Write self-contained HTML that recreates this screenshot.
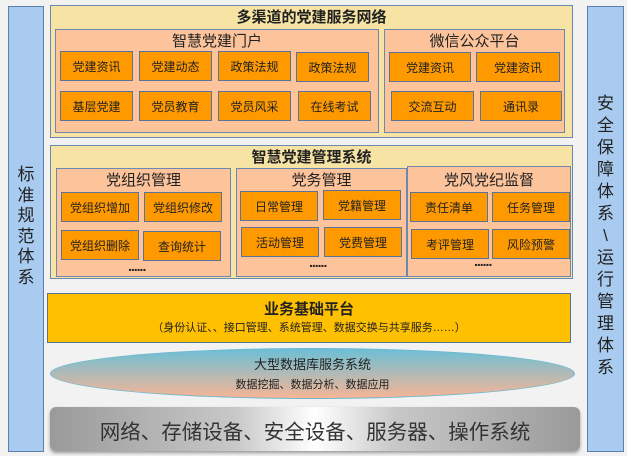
<!DOCTYPE html>
<html><head><meta charset="utf-8"><style>
*{margin:0;padding:0;box-sizing:border-box}
body{width:627px;height:466px;background:#fff;position:relative;overflow:hidden;font-family:"Liberation Sans","Noto Sans CJK SC",sans-serif}
.a{position:absolute}
.bg{left:0;top:0;width:627px;height:456px;background:#f2f2f2}
.side{background:#a9cbf0;border:1px solid #5a7fae;color:#222;font-size:17px;text-align:center;line-height:20.5px}
.ybox{background:#f7e4a4;border:1px solid #6a88b0}
.pbox{background:#fdc49c;border:1px solid #6a88b0}
.btn{background:#ff9900;border:1.5px solid #5b7396;font-size:12px;color:#222;display:flex;align-items:center;justify-content:center}
.t{text-align:center;color:#222}
.dots{font-size:14px;letter-spacing:-1px;color:#222;font-weight:bold}
</style></head><body>
<div class="a bg"></div>
<div class="a side" style="left:8px;top:6px;width:36px;height:446px;padding-top:158px">标<br>准<br>规<br>范<br>体<br>系</div>
<div class="a side" style="left:587px;top:6px;width:37px;height:446px;padding-top:86px;line-height:22px">安<br>全<br>保<br>障<br>体<br>系<br>\<br>运<br>行<br>管<br>理<br>体<br>系</div>

<div class="a ybox" style="left:50px;top:5px;width:523px;height:133px"></div>
<div class="a t" style="left:50px;top:6px;width:523px;font-size:15px;font-weight:bold">多渠道的党建服务网络</div>
<div class="a pbox" style="left:55px;top:29px;width:324px;height:104px"></div>
<div class="a t" style="left:55px;top:30px;width:324px;font-size:15px">智慧党建门户</div>
<div class="a btn" style="left:60px;top:51px;width:73px;height:30px">党建资讯</div>
<div class="a btn" style="left:139px;top:51px;width:73px;height:30px">党建动态</div>
<div class="a btn" style="left:218px;top:51px;width:73px;height:30px">政策法规</div>
<div class="a btn" style="left:296px;top:52px;width:73px;height:30px">政策法规</div>
<div class="a btn" style="left:60px;top:91px;width:73px;height:30px">基层党建</div>
<div class="a btn" style="left:139px;top:91px;width:73px;height:30px">党员教育</div>
<div class="a btn" style="left:218px;top:91px;width:73px;height:30px">党员风采</div>
<div class="a btn" style="left:298px;top:91px;width:73px;height:30px">在线考试</div>
<div class="a pbox" style="left:384px;top:29px;width:181px;height:104px"></div>
<div class="a t" style="left:384px;top:30px;width:181px;font-size:15px">微信公众平台</div>
<div class="a btn" style="left:389px;top:52px;width:82px;height:30px">党建资讯</div>
<div class="a btn" style="left:476px;top:52px;width:84px;height:30px">党建资讯</div>
<div class="a btn" style="left:391px;top:91px;width:83px;height:30px">交流互动</div>
<div class="a btn" style="left:480px;top:91px;width:82px;height:30px">通讯录</div>

<div class="a ybox" style="left:50px;top:145px;width:523px;height:134px"></div>
<div class="a t" style="left:50px;top:146px;width:523px;font-size:15px;font-weight:bold">智慧党建管理系统</div>
<div class="a pbox" style="left:56px;top:168px;width:175px;height:109px"></div>
<div class="a t" style="left:56px;top:169px;width:175px;font-size:15px">党组织管理</div>
<div class="a btn" style="left:61px;top:192px;width:78px;height:30px">党组织增加</div>
<div class="a btn" style="left:144px;top:192px;width:78px;height:30px">党组织修改</div>
<div class="a btn" style="left:61px;top:230px;width:78px;height:30px">党组织删除</div>
<div class="a btn" style="left:143px;top:231px;width:78px;height:30px">查询统计</div>
<div class="a dots" style="left:128px;top:258px">......</div>
<div class="a pbox" style="left:236px;top:168px;width:171px;height:109px"></div>
<div class="a t" style="left:236px;top:169px;width:171px;font-size:15px">党务管理</div>
<div class="a btn" style="left:240px;top:191px;width:78px;height:30px">日常管理</div>
<div class="a btn" style="left:323px;top:190px;width:78px;height:30px">党籍管理</div>
<div class="a btn" style="left:241px;top:227px;width:78px;height:30px">活动管理</div>
<div class="a btn" style="left:324px;top:227px;width:78px;height:30px">党费管理</div>
<div class="a dots" style="left:309px;top:254px">......</div>
<div class="a pbox" style="left:407px;top:166px;width:164px;height:111px"></div>
<div class="a t" style="left:407px;top:169px;width:164px;font-size:15px">党风党纪监督</div>
<div class="a btn" style="left:410px;top:192px;width:78px;height:30px">责任清单</div>
<div class="a btn" style="left:492px;top:192px;width:78px;height:30px">任务管理</div>
<div class="a btn" style="left:411px;top:229px;width:78px;height:30px">考评管理</div>
<div class="a btn" style="left:492px;top:229px;width:78px;height:30px">风险预警</div>
<div class="a dots" style="left:474px;top:253px">......</div>

<div class="a" style="left:47px;top:293px;width:524px;height:50px;background:#ffc000;border:1px solid #5b7396"></div>
<div class="a t" style="left:47px;top:298px;width:524px;font-size:15px;font-weight:bold">业务基础平台</div>
<div class="a t" style="left:47px;top:319px;width:524px;font-size:11px">（身份认证、、接口管理、系统管理、数据交换与共享服务……）</div>

<div class="a" style="left:50px;top:348px;width:525px;height:51px;border-radius:50%;border:1.5px solid #6fb8d0;background:linear-gradient(#6cbfd6,#f6b596)"></div>
<div class="a t" style="left:50px;top:354px;width:525px;font-size:13px">大型数据库服务系统</div>
<div class="a t" style="left:50px;top:376px;width:525px;font-size:11px">数据挖掘、数据分析、数据应用</div>

<div class="a" style="left:50px;top:407px;width:530px;height:44px;border-radius:6px;background:linear-gradient(90deg,#9a9a9a,#c8c8c8 35%,#fff 50%,#c8c8c8 65%,#9a9a9a);box-shadow:0 2px 3px #999"></div>
<div class="a t" style="left:50px;top:415px;width:530px;font-size:20.5px;color:#333">网络、存储设备、安全设备、服务器、操作系统</div>
</body></html>
